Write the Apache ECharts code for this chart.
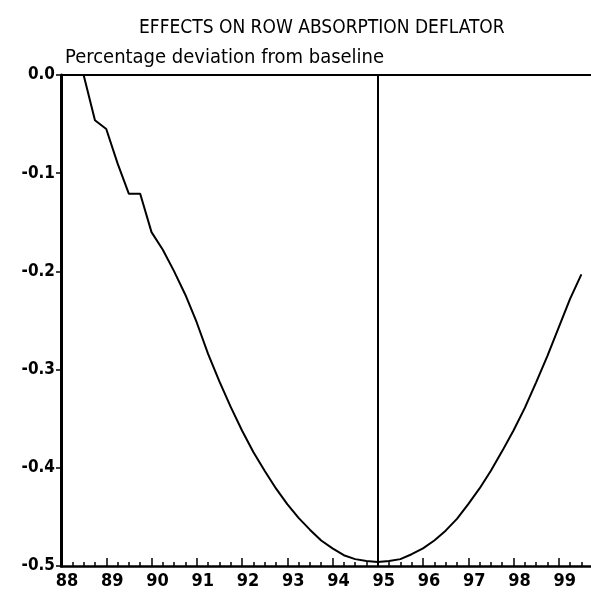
<!DOCTYPE html>
<html>
<head>
<meta charset="utf-8">
<script src="https://cdn.jsdelivr.net/npm/echarts@6/dist/echarts.min.js"></script>
<style>
html, body { margin: 0; padding: 0; background: #fff; overflow: hidden; }
#chart { width: 607px; height: 596px; }
</style>
</head>
<body>
<div id="chart"></div>
<script>
// quarterly observations, 88Q1 .. 99Q3 (x = year + quarter/4)
var quarters = [
	88.0, 88.25, 88.5, 88.75, 89.0, 89.25, 89.5, 89.75,
	90.0, 90.25, 90.5, 90.75, 91.0, 91.25, 91.5, 91.75,
	92.0, 92.25, 92.5, 92.75, 93.0, 93.25, 93.5, 93.75,
	94.0, 94.25, 94.5, 94.75, 95.0, 95.25, 95.5, 95.75,
	96.0, 96.25, 96.5, 96.75, 97.0, 97.25, 97.5, 97.75,
	98.0, 98.25, 98.5, 98.75, 99.0, 99.25, 99.5
];
var deviation = [
	0.0, 0.0, 0.0, -0.046, -0.055, -0.09, -0.121, -0.121,
	-0.16, -0.178, -0.2, -0.224, -0.252, -0.284, -0.312, -0.338,
	-0.362, -0.384, -0.403, -0.421, -0.437, -0.451, -0.463, -0.474,
	-0.482, -0.489, -0.493, -0.495, -0.496, -0.495, -0.493, -0.488,
	-0.482, -0.474, -0.464, -0.452, -0.437, -0.421, -0.403, -0.383,
	-0.362, -0.339, -0.313, -0.286, -0.257, -0.228, -0.203
];
var yearTicks = ['88', '89', '90', '91', '92', '93', '94', '95', '96', '97', '98', '99'];
var markYear = 95;

var font = '"DejaVu Sans Condensed", "DejaVu Sans", sans-serif';

var myChart = echarts.init(document.getElementById('chart'));

var points = [];
for (var i = 0; i < quarters.length; i++) {
	points.push([quarters[i], deviation[i]]);
}

var option = {
	backgroundColor: '#fff',
	animation: false,
	title: [{
		text: 'EFFECTS ON ROW ABSORPTION DEFLATOR',
		left: 134,
		top: 14,
		textStyle: { color: '#000', fontFamily: font, fontWeight: 'normal', fontSize: 19 }
	}, {
		text: 'Percentage deviation from baseline',
		left: 60,
		top: 43,
		textStyle: { color: '#000', fontFamily: font, fontWeight: 'normal', fontSize: 20 }
	}],
	grid: {
		left: 61,
		top: 75,
		right: 1,
		bottom: 30
	},
	xAxis: {
		type: 'value',
		min: 88,
		max: 100,
		interval: 1,
		axisLine: { onZero: false, lineStyle: { color: '#000', width: 2.5 } },
		axisTick: { inside: true, length: 8, lineStyle: { color: '#000', width: 1.5 } },
		minorTick: { show: true, splitNumber: 4, length: 4, lineStyle: { color: '#000', width: 1.5 } },
		splitLine: { show: false },
		axisLabel: {
			color: '#000',
			fontFamily: font,
			fontWeight: 'bold',
			fontSize: 18,
			margin: 6,
			padding: [0, 0, 0, 12],
			formatter: function (v) {
				var k = yearTicks.indexOf(String(Math.round(v) % 100));
				return (Math.abs(v - Math.round(v)) < 1e-6 && k >= 0) ? yearTicks[k] : '';
			}
		}
	},
	yAxis: {
		type: 'value',
		min: -0.5,
		max: 0,
		interval: 0.1,
		axisLine: { show: true, onZero: false, lineStyle: { color: '#000', width: 3 } },
		axisTick: { show: true, length: 5, lineStyle: { color: '#000', width: 1.5 } },
		splitLine: { show: false },
		axisLabel: {
			color: '#000',
			fontFamily: font,
			fontWeight: 'bold',
			fontSize: 17,
			margin: 6,
			formatter: function (v) { return v.toFixed(1); }
		}
	},
	series: [{
		type: 'line',
		data: points,
		symbol: 'none',
		lineStyle: { color: '#000', width: 2 },
		markLine: {
			silent: true,
			symbol: 'none',
			label: { show: false },
			lineStyle: { color: '#000', width: 2, type: 'solid' },
			data: [{ xAxis: markYear }, { yAxis: 0 }]
		}
	}]
};
myChart.setOption(option);
</script>
</body>
</html>
